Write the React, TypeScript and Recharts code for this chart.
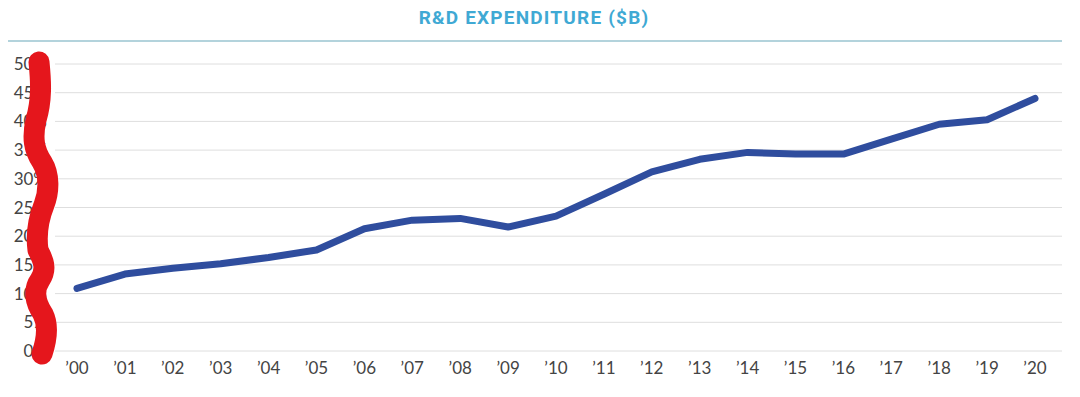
import React from "react";
import { LineChart, Line, XAxis, YAxis, CartesianGrid } from "recharts";

// values ($B)
const years = [
  "’00", "’01", "’02", "’03", "’04", "’05", "’06", "’07", "’08", "’09", "’10",
  "’11", "’12", "’13", "’14", "’15", "’16", "’17", "’18", "’19", "’20",
];
const spending = [
  10.9, 13.4, 14.4, 15.2, 16.3, 17.6, 21.3, 22.8, 23.1, 21.6, 23.5,
  27.3, 31.2, 33.4, 34.6, 34.3, 34.3, 36.9, 39.5, 40.3, 44.0,
];
const yTicks = [0, 5, 10, 15, 20, 25, 30, 35, 40, 45, 50];

const data = years.map((year, i) => ({ year, value: spending[i] }));

// the red marker stroke drawn over the y labels in the reference
const scribble =
  "M39 62 C41 82 42 100 36 120 C32 138 34 150 42 162 C50 175 49 192 44 205 C38 220 36 235 38 250 C42 258 48 268 40 280 C33 290 35 302 43 314 C49 326 46 342 42 354";

const App: React.FC = () => {
  return (
    <div
      style={{
        position: "relative",
        width: 1080,
        height: 397,
        margin: -8,
        overflow: "hidden",
        background: "#fff",
        fontFamily: "Lato, sans-serif",
      }}
    >
      <div
        style={{
          position: "absolute",
          top: 6,
          left: 0,
          width: 1068,
          textAlign: "center",
          fontFamily: "Roboto, sans-serif",
          fontWeight: 700,
          fontSize: 19,
          letterSpacing: 1.2,
          color: "#3fa9d4",
        }}
      >
        R&amp;D EXPENDITURE ($B)
      </div>
      <div
        style={{
          position: "absolute",
          top: 40,
          left: 5,
          width: 1057,
          height: 2,
          background: "#b3d3dc",
        }}
      />
      <LineChart
        width={1080}
        height={397}
        data={data}
        margin={{ top: 64, right: 18, bottom: 16, left: 0 }}
      >
        <CartesianGrid vertical={false} stroke="#dedede" strokeWidth={1} />
        <XAxis
          dataKey="year"
          height={30}
          axisLine={false}
          tickLine={false}
          tickSize={0}
          tickMargin={11}
          padding={{ left: 22, right: 27 }}
          interval={0}
          tick={{ fontSize: 17, fill: "#444" }}
        />
        <YAxis
          domain={[0, 50]}
          ticks={yTicks}
          width={55}
          axisLine={false}
          tickLine={false}
          tickFormatter={(v: number) => `${v}%`}
          tick={{ fontSize: 17, fill: "#444" }}
        />
        <Line
          type="linear"
          dataKey="value"
          stroke="#2f4d9e"
          strokeWidth={7}
          strokeLinecap="round"
          strokeLinejoin="round"
          dot={false}
          isAnimationActive={false}
        />
      </LineChart>
      <svg
        width={1080}
        height={397}
        style={{ position: "absolute", top: 0, left: 0, pointerEvents: "none" }}
      >
        <path
          d={scribble}
          fill="none"
          stroke="#e5161c"
          strokeWidth={21}
          strokeLinecap="round"
          strokeLinejoin="round"
        />
      </svg>
    </div>
  );
};

export default App;
